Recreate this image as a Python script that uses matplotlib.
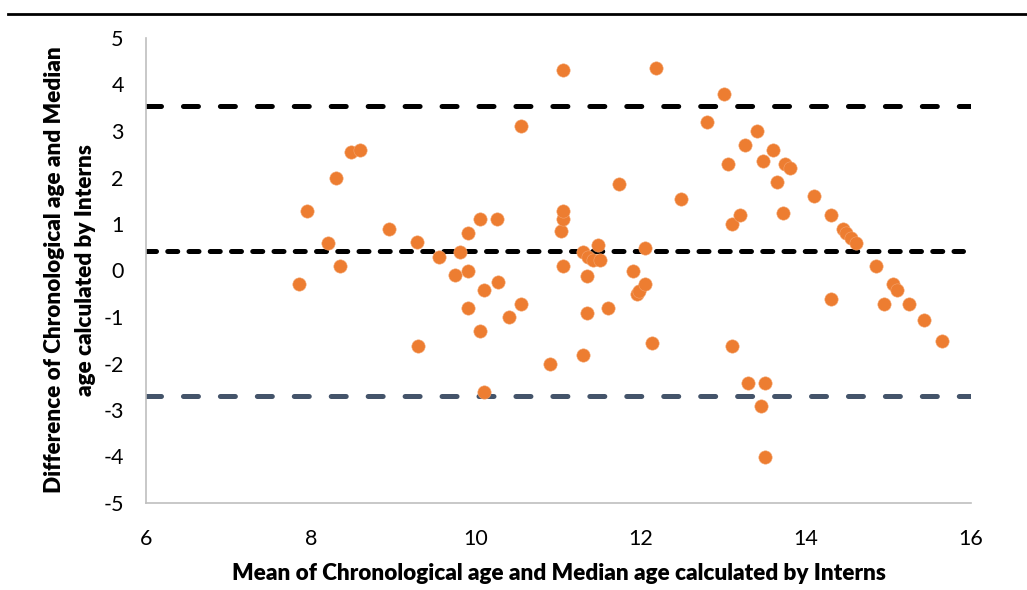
import matplotlib
matplotlib.use("Agg")
import matplotlib.pyplot as plt
from matplotlib.lines import Line2D

plt.rcParams['font.family'] = ['Lato', 'DejaVu Sans']
plt.rcParams['lines.scale_dashes'] = False

mean_age = [7.85, 7.95, 8.21, 8.30, 8.35, 8.48, 8.60, 8.95, 9.29, 9.30,
            9.55, 9.75, 9.80, 9.90, 9.90, 9.90, 10.05, 10.05, 10.10, 10.10,
            10.25, 10.27, 10.40, 10.55, 10.55, 10.90, 11.03, 11.05, 11.05, 11.05,
            11.05, 11.30, 11.30, 11.35, 11.35, 11.36, 11.42, 11.48, 11.50, 11.60,
            11.73, 11.90, 11.95, 11.98, 12.05, 12.05, 12.13, 12.18, 12.48, 12.80,
            13.00, 13.05, 13.10, 13.10, 13.20, 13.26, 13.30, 13.40, 13.45, 13.48,
            13.50, 13.50, 13.60, 13.65, 13.72, 13.75, 13.80, 14.10, 14.30, 14.30,
            14.45, 14.49, 14.55, 14.60, 14.85, 14.95, 15.05, 15.10, 15.25, 15.43,
            15.65]
difference = [-0.30, 1.29, 0.60, 2.00, 0.10, 2.55, 2.60, 0.90, 0.62, -1.62,
              0.30, -0.10, 0.40, 0.80, 0.00, -0.81, 1.10, -1.31, -0.41, -2.61,
              1.10, -0.25, -1.01, 3.10, -0.71, -2.01, 0.85, 1.10, 1.29, 4.31,
              0.10, 0.40, -1.82, -0.91, -0.11, 0.28, 0.22, 0.55, 0.22, -0.81,
              1.85, 0.00, -0.50, -0.45, -0.30, 0.49, -1.56, 4.35, 1.54, 3.20,
              3.80, 2.30, 0.99, -1.62, 1.19, 2.70, -2.41, 3.00, -2.91, 2.35,
              -2.41, -4.02, 2.60, 1.90, 1.24, 2.30, 2.20, 1.60, 1.19, -0.61,
              0.89, 0.80, 0.69, 0.59, 0.10, -0.71, -0.30, -0.41, -0.71, -1.06,
              -1.51]
upper_loa = 3.54
mean_diff = 0.43
lower_loa = -2.70

x_ticks = [6, 8, 10, 12, 14, 16]
y_ticks = [-5, -4, -3, -2, -1, 0, 1, 2, 3, 4, 5]

fig = plt.figure(figsize=(10.27, 5.90), dpi=100)
ax = fig.add_axes([146/1027, 1 - 503/590, (971-146)/1027, (503-38)/590])

ax.axhline(upper_loa, color='black', lw=3.6, dashes=(10.8, 15.8),
           dash_capstyle='round', zorder=2)
ax.axhline(mean_diff, color='black', lw=3.6, dashes=(7.2, 8.1),
           dash_capstyle='round', xmax=0.99, zorder=2)
ax.axhline(lower_loa, color='#44546A', lw=3.6, dashes=(10.8, 15.8),
           dash_capstyle='round', zorder=2)

ax.scatter(mean_age, difference, s=92, color='#ED7D31', edgecolors='#F4A46E',
           linewidths=0.4, zorder=3)

ax.set_xlim(6, 16)
ax.set_ylim(-5, 5)
ax.set_xticks(x_ticks)
ax.set_yticks(y_ticks)
ax.set_xticklabels([str(t) for t in x_ticks])
ax.set_yticklabels([str(t) for t in y_ticks])
ax.tick_params(axis='both', length=0, labelsize=15.5, colors='black')
ax.tick_params(axis='y', pad=16)
ax.tick_params(axis='x', pad=19)

for s in ['top', 'right']:
    ax.spines[s].set_visible(False)
for s in ['left', 'bottom']:
    ax.spines[s].set_color('#BFBFBF')
    ax.spines[s].set_linewidth(1.2)

ax.set_xlabel('Mean of Chronological age and Median age calculated by Interns',
              fontsize=16.2, fontweight='heavy', labelpad=10)
fig.text(55/1027, 1 - 270/590, 'Difference of Chronological age and Median',
         rotation=90, ha='center', va='center', fontsize=16.2, fontweight='heavy')
fig.text(86/1027, 1 - 270/590, 'age calculated by Interns',
         rotation=90, ha='center', va='center', fontsize=16.2, fontweight='heavy')

fig.add_artist(Line2D([8/1027, 1.0], [1 - 14/590, 1 - 14/590],
                      transform=fig.transFigure, color='black', lw=2))

fig.savefig('out.png', dpi=100)
